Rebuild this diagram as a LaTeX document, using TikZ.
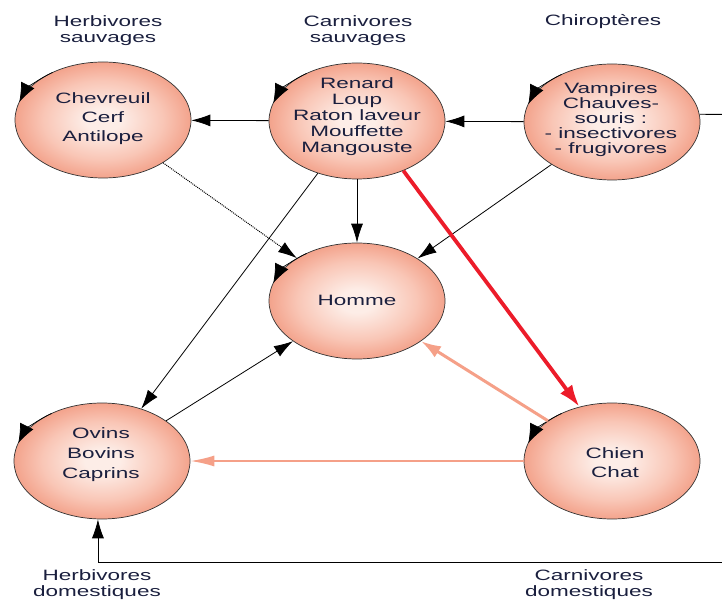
\documentclass[tikz,border=0pt]{standalone}
\usepackage{fontspec}
\setmainfont{Liberation Sans}
\usetikzlibrary{shapes.geometric,arrows.meta,calc}
\definecolor{ink}{HTML}{1A1F3E}
\definecolor{blobin}{HTML}{FDEDE7}
\definecolor{blobmid}{HTML}{F9C6B6}
\definecolor{blobout}{HTML}{F3A38C}
\definecolor{rimgray}{HTML}{333333}
\definecolor{hotred}{HTML}{EC1C2A}
\definecolor{salmon}{HTML}{F5A088}
% soft pink centre fading to salmon at the rim
\pgfdeclareradialshading{blobshade}{\pgfpoint{0bp}{0bp}}{%
  color(0bp)=(blobin); color(5bp)=(blobin); color(17bp)=(blobmid);
  color(25bp)=(blobout); color(50bp)=(blobout)}
\begin{document}
\begin{tikzpicture}[x=1pt,y=1pt,
  blob/.style={ellipse, draw=rimgray, line width=0.7pt, minimum width=176pt,
    minimum height=116pt, inner sep=0pt, shade, shading=blobshade},
  lbl/.style={xscale=1.5, align=center, text=ink, inner sep=0pt,
    font=\fontsize{15}{19}\selectfont},
  link/.style={draw=black, line width=0.8pt, -{Latex[length=19pt,width=12pt]}},
  dotlink/.style={draw=black, line width=1pt, dash pattern=on 1pt off 1pt,
    -{Latex[length=19pt,width=12pt]}},
  redlink/.style={draw=hotred, line width=3.8pt, -{Latex[length=22pt,width=15pt]}},
  softthick/.style={draw=salmon, line width=3pt, -{Latex[length=20pt,width=13pt]}},
  softthin/.style={draw=salmon, line width=1.8pt, -{Latex[length=24pt,width=11pt]}},
  plain/.style={draw=black, line width=0.8pt},
  spin/.style={draw=black, line width=0.7pt, -{Latex[length=19pt,width=15pt]}}
]
\useasboundingbox (0,0) rectangle (722,600);

% group headings
\node[lbl, font=\fontsize{15}{16}\selectfont] (h-hsv) at (108,569.5) {Herbivores\\sauvages};
\node[lbl, font=\fontsize{15}{16}\selectfont] (h-csv) at (358,569.5) {Carnivores\\sauvages};
\node[lbl] (h-chi) at (603,578.5) {Chiropt\`eres};
\node[lbl, font=\fontsize{15}{16}\selectfont] (h-hdo) at (97,15) {Herbivores\\domestiques};
\node[lbl, font=\fontsize{15}{16}\selectfont] (h-cdo) at (589,15.5) {Carnivores\\domestiques};

% host populations
\node[blob] (hs)   at (103,480) {};
\node[blob] (cs)   at (357,479) {};
\node[blob] (chir) at (612,478) {};
\node[blob] (hom)  at (357,299) {};
\node[blob] (ov)   at (102,139) {};
\node[blob] (chn)  at (612,139) {};

\node[lbl] (t-hs) at (103,481) {Chevreuil\\Cerf\\Antilope};
\node[lbl, font=\fontsize{15}{16}\selectfont] (t-cs) at (357,483) {Renard\\Loup\\Raton laveur\\Mouffette\\Mangouste};
\node[lbl, font=\fontsize{15}{15}\selectfont] (t-chir) at (611,480) {Vampires\\Chauves-\\souris :\\- insectivores\\- frugivores};
\node[lbl] (t-hom) at (357,300) {Homme};
\node[lbl, font=\fontsize{15}{20}\selectfont] (t-ov) at (101,145) {Ovins\\Bovins\\Caprins};
\node[lbl] (t-chn) at (615,137.5) {Chien\\Chat};

% circulation marks on each population
\foreach \n in {hs,cs,chir,hom,ov,chn}
  \draw[spin] ($(\n.center)+({88*cos(125)},{58*sin(125)})$)
    arc[start angle=125, end angle=162, x radius=88, y radius=58];

% transmission routes
\draw[link] (cs) -- (hs);
\draw[link] (chir) -- (cs);
\draw[dotlink] (hs) -- (hom);
\draw[link] (cs) -- (hom);
\draw[link] (cs) -- (ov);
\draw[link] (chir) -- (hom);
\draw[link] (ov) -- (hom);
\draw[redlink] (cs.-47) -- (chn.121);
\draw[softthick] (chn) -- (hom);
\draw[softthin] (chn) -- (ov);

% routes leaving the frame
\coordinate (exitA) at (722,485.6);
\draw[plain] (chir.5) -- (exitA);
\coordinate (exitB) at (722,38);
\draw[link] (exitB) -| (ov.266);
\end{tikzpicture}
\end{document}
